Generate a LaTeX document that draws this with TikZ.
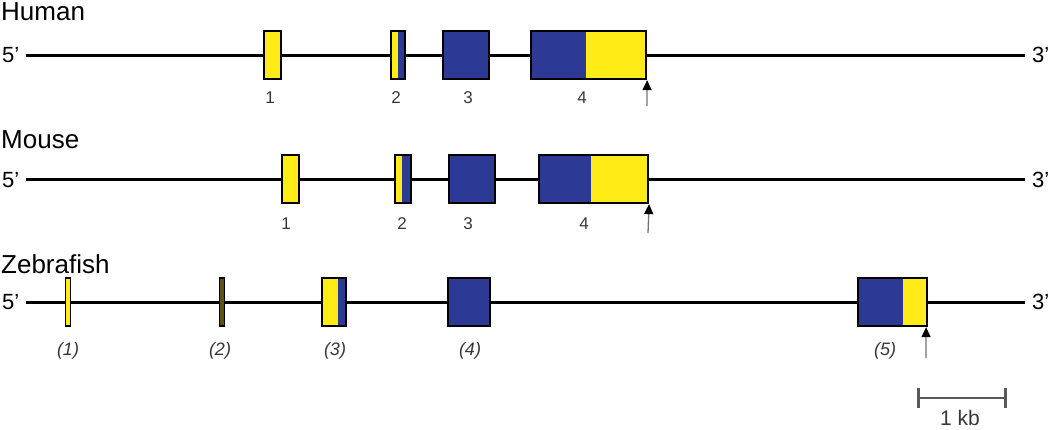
\documentclass[tikz,border=0pt]{standalone}
\usepackage{fontspec}
\setmainfont{Liberation Sans}
\usetikzlibrary{arrows.meta,calc}
\definecolor{exyellow}{RGB}{255,236,22}
\definecolor{exblue}{RGB}{44,58,150}
\definecolor{exolive}{RGB}{92,82,24}
\definecolor{labgray}{RGB}{55,55,55}
\begin{document}
\begin{tikzpicture}[x=1pt,y=-1pt,
		gene/.style={line width=3pt,black},
		exon/.style={draw=black,line width=2.2pt,rectangle,inner sep=0pt,minimum height=48pt},
		tailfill/.style 2 args={path picture={\fill[#2] ($(path picture bounding box.south west)!#1!(path picture bounding box.south east)$) rectangle (path picture bounding box.north east);}},
		stopmark/.style={-{Triangle[width=9pt,length=10pt,black]},line width=1.3pt,draw=black!55},
		species/.style={anchor=base west,inner sep=0pt,font=\fontsize{26}{30}\selectfont},
		endlab/.style={inner sep=0pt,font=\fontsize{22}{26}\selectfont},
		num/.style={anchor=base,inner sep=0pt,text=labgray,font=\fontsize{17}{20}\selectfont},
		znum/.style={anchor=base,inner sep=0pt,text=labgray,font=\fontsize{18}{21}\selectfont\itshape}]
		\useasboundingbox (0,0) rectangle (1050,429);
		
		% human
		\node[species] (human) at (1,20) {Human};
		\node[endlab,anchor=base west] (h5) at (2,62) {5'};
		\node[endlab,anchor=base west] (h3) at (1032,62) {3'};
		\coordinate (hl) at (26,55);
		\coordinate (hr) at (1025,55);
		\draw[gene] (hl) -- (hr);
		\node[exon,fill=exyellow,minimum width=17pt] (h1) at (272.5,55) {};
		\node[exon,fill=exyellow,tailfill={0.5}{exblue},minimum width=14pt] (h2) at (398,55) {};
		\node[exon,fill=exblue,minimum width=46pt] (h3x) at (466,55) {};
		\node[exon,fill=exblue,tailfill={0.48}{exyellow},minimum width=115pt] (h4) at (588.5,55) {};
		\coordinate (hs) at (647,106);
		\draw[stopmark] (hs) -- (h4.south east);
		\node[num] (hn1) at (270,103) {1};
		\node[num] (hn2) at (396,103) {2};
		\node[num] (hn3) at (468,103) {3};
		\node[num] (hn4) at (582,103) {4};
		
		% mouse
		\node[species] (mouse) at (1,148) {Mouse};
		\node[endlab,anchor=base west] (m5) at (2,187) {5'};
		\node[endlab,anchor=base west] (m3) at (1032,187) {3'};
		\coordinate (ml) at (26,179);
		\coordinate (mr) at (1025,179);
		\draw[gene] (ml) -- (mr);
		\node[exon,fill=exyellow,minimum width=17pt] (m1) at (290.5,179) {};
		\node[exon,fill=exyellow,tailfill={0.45}{exblue},minimum width=16pt] (m2) at (403,179) {};
		\node[exon,fill=exblue,minimum width=46pt] (m3x) at (472,179) {};
		\node[exon,fill=exblue,tailfill={0.48}{exyellow},minimum width=109pt] (m4) at (593.5,179) {};
		\coordinate (ms) at (648,233);
		\draw[stopmark] (ms) -- (m4.south east);
		\node[num] (mn1) at (286,229) {1};
		\node[num] (mn2) at (402,229) {2};
		\node[num] (mn3) at (468,229) {3};
		\node[num] (mn4) at (584,229) {4};
		
		% zebrafish
		\node[species] (zebrafish) at (1,273) {Zebrafish};
		\node[endlab,anchor=base west] (z5) at (2,309) {5'};
		\node[endlab,anchor=base west] (z3) at (1032,309) {3'};
		\coordinate (zl) at (26,302);
		\coordinate (zr) at (1025,302);
		\draw[gene] (zl) -- (zr);
		\node[exon,fill=exyellow,line width=1.6pt,minimum width=5pt] (z1) at (68,302) {};
		\node[exon,fill=exolive,line width=1.6pt,minimum width=5pt] (z2) at (222,302) {};
		\node[exon,fill=exyellow,tailfill={0.65}{exblue},minimum width=24pt] (z3x) at (334,302) {};
		\node[exon,fill=exblue,minimum width=42pt] (z4) at (469,302) {};
		\node[exon,fill=exblue,tailfill={0.65}{exyellow},minimum width=69pt] (z5x) at (892.5,302) {};
		\coordinate (zs) at (926,358);
		\draw[stopmark] (zs) -- ([xshift=-2pt]z5x.south east);
		\node[znum] (zn1) at (68,355) {(1)};
		\node[znum] (zn2) at (220,355) {(2)};
		\node[znum] (zn3) at (335,355) {(3)};
		\node[znum] (zn4) at (470,355) {(4)};
		\node[znum] (zn5) at (885,355) {(5)};
		
		% scale
		\coordinate (kb0) at (917,398);
		\coordinate (kb1) at (1007,398);
		\draw[{Bar[width=20pt]}-{Bar[width=20pt]},line width=2.6pt,draw=black!65] (kb0) -- (kb1);
		\node[anchor=base,inner sep=0pt,text=labgray,font=\fontsize{21}{25}\selectfont] (kb) at (960,425) {1 kb};
\end{tikzpicture}
\end{document}
